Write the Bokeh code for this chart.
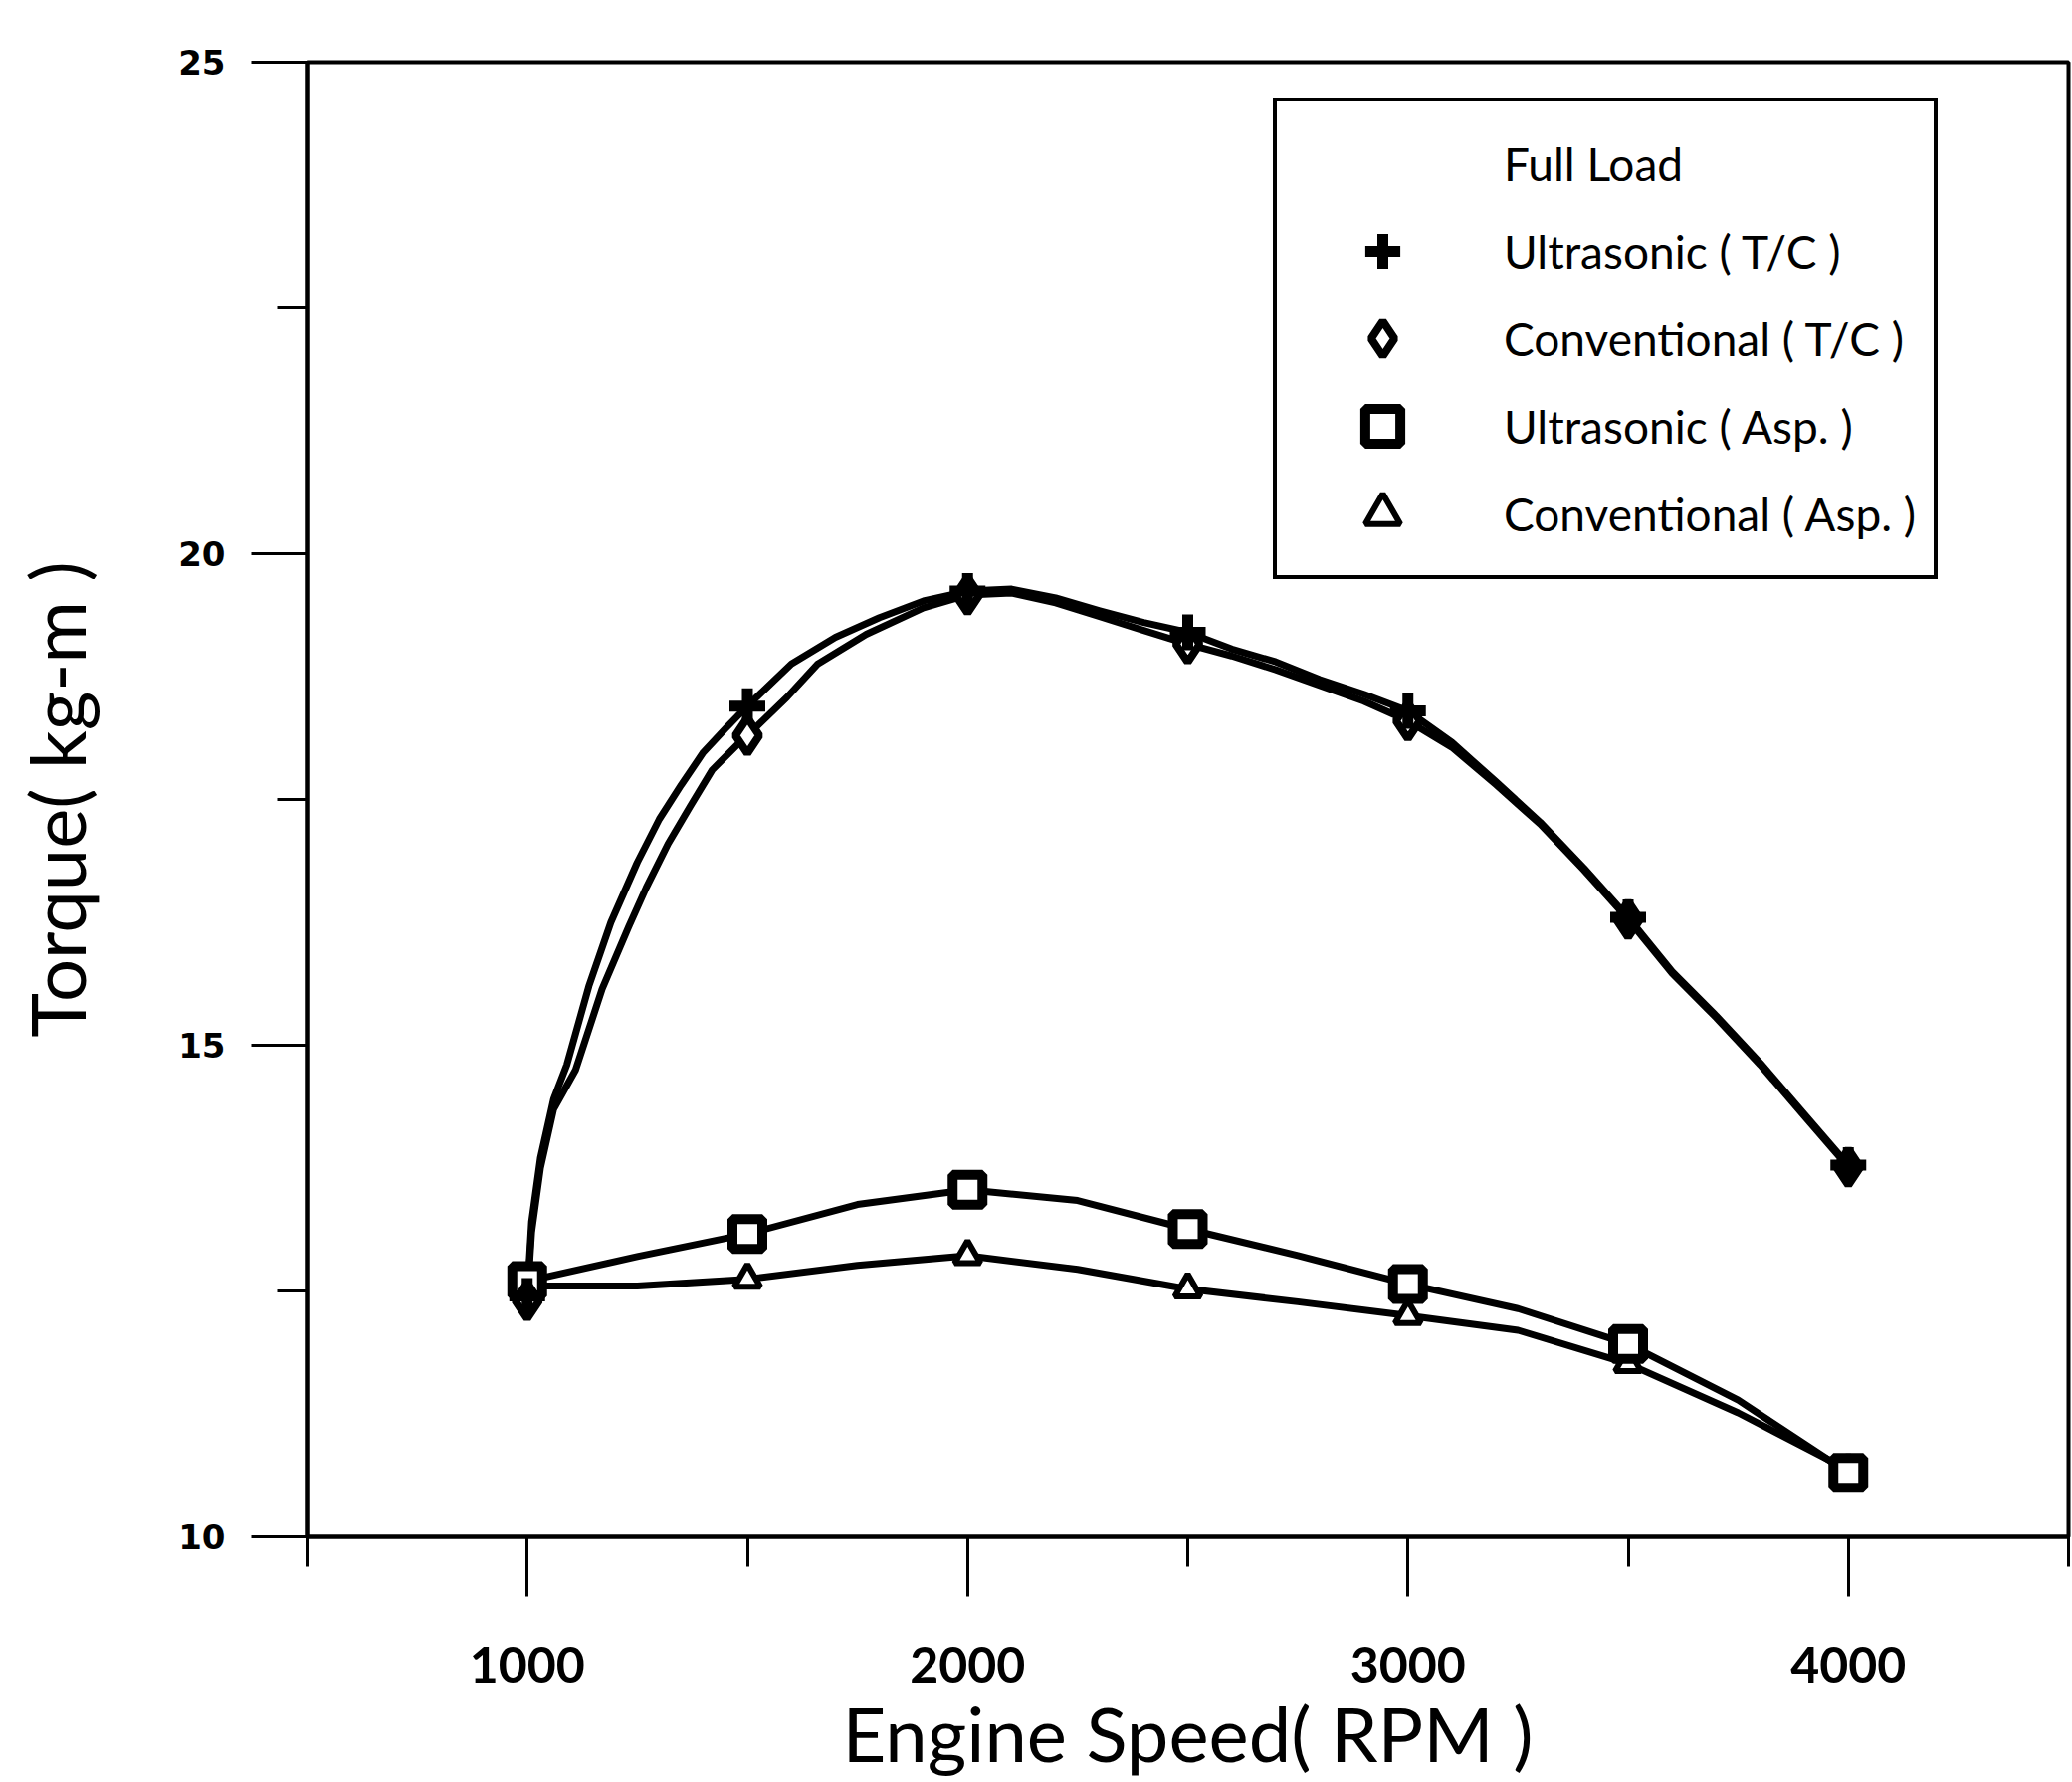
from bokeh.plotting import figure
from bokeh.models import Range1d, Legend, LegendItem, FixedTicker
from bokeh.embed import file_html
from bokeh.resources import INLINE

# ---- data ----
rpm = [1000, 1500, 2000, 2500, 3000, 3500, 4000]
ultra_tc = [12.45, 18.45, 19.62, 19.20, 18.40, 16.30, 13.78]
conv_tc = [12.40, 18.15, 19.58, 19.08, 18.30, 16.28, 13.76]
ultra_asp = [12.60, 13.08, 13.53, 13.13, 12.57, 11.96, 10.65]
conv_asp = [12.55, 12.62, 12.86, 12.52, 12.25, 11.76, 10.68]

# traced paths of the drawn (smoothed) curves
ultra_tc_path_rpm = [1000, 1010, 1030, 1060, 1090, 1140, 1190, 1250, 1300, 1350, 1400, 1450,
                     1500, 1600, 1700, 1800, 1900, 2000, 2100, 2200, 2300, 2400, 2500, 2600,
                     2700, 2800, 2900, 3000, 3100, 3200, 3300, 3400, 3500, 3600, 3700, 3800,
                     3900, 4000]
ultra_tc_path_tq = [12.45, 13.2, 13.85, 14.45, 14.8, 15.6, 16.25, 16.86, 17.3, 17.65, 17.98, 18.22,
                    18.45, 18.88, 19.15, 19.35, 19.52, 19.62, 19.64, 19.55, 19.42, 19.30, 19.20, 19.03,
                    18.90, 18.72, 18.57, 18.40, 18.08, 17.68, 17.27, 16.80, 16.30, 15.75, 15.30, 14.82,
                    14.30, 13.78]
conv_tc_path_rpm = [1000, 1010, 1030, 1060, 1110, 1170, 1230, 1270, 1320, 1370, 1420, 1480,
                    1500, 1590, 1660, 1770, 1900, 2000, 2100, 2200, 2300, 2400, 2500, 2600,
                    2700, 2800, 2900, 3000, 3100, 3200, 3300, 3400, 3500, 3600, 3700, 3800,
                    3900, 4000]
conv_tc_path_tq = [12.40, 13.1, 13.75, 14.35, 14.75, 15.57, 16.2, 16.6, 17.05, 17.43, 17.8, 18.07,
                   18.15, 18.54, 18.88, 19.18, 19.45, 19.58, 19.60, 19.50, 19.36, 19.22, 19.08, 18.96,
                   18.82, 18.66, 18.50, 18.30, 18.03, 17.65, 17.25, 16.78, 16.28, 15.73, 15.28, 14.80,
                   14.28, 13.76]
asp_path_rpm = [1000, 1250, 1500, 1750, 2000, 2250, 2500, 2750, 3000, 3250, 3500, 3750, 4000]
ultra_asp_path_tq = [12.60, 12.85, 13.08, 13.38, 13.53, 13.42, 13.13, 12.86, 12.57, 12.32, 11.96, 11.39, 10.65]
conv_asp_path_tq = [12.55, 12.55, 12.62, 12.76, 12.86, 12.72, 12.52, 12.39, 12.25, 12.10, 11.76, 11.26, 10.68]

x_ticks = [1000, 2000, 3000, 4000]
x_minor = [500, 1500, 2500, 3500, 4500]
y_ticks = [10, 15, 20, 25]
y_minor = [12.5, 17.5, 22.5]

legend_title = "Full Load"
labels = ["Ultrasonic ( T/C )", "Conventional ( T/C )", "Ultrasonic ( Asp. )", "Conventional ( Asp. )"]

p = figure(width=2082, height=1791, output_backend="svg", toolbar_location=None,
           x_range=Range1d(500, 4500), y_range=Range1d(10, 25),
           min_border_left=308, min_border_right=4, min_border_top=62, min_border_bottom=247)
p.background_fill_color = "white"
p.border_fill_color = "white"
p.xgrid.visible = False
p.ygrid.visible = False
p.outline_line_color = "black"
p.outline_line_width = 4
p.outline_line_alpha = 1.0

p.xaxis.ticker = FixedTicker(ticks=x_ticks, minor_ticks=x_minor)
p.yaxis.ticker = FixedTicker(ticks=y_ticks, minor_ticks=y_minor)

for ax in (p.xaxis[0], p.yaxis[0]):
    ax.axis_line_color = "black"
    ax.axis_line_width = 4
    ax.major_tick_in = 0
    ax.minor_tick_in = 0
    ax.major_tick_line_color = "black"
    ax.minor_tick_line_color = "black"
    ax.major_tick_line_width = 3
    ax.minor_tick_line_width = 3
    ax.major_label_text_color = "black"
    ax.axis_label_text_color = "black"
    ax.axis_label_text_font_style = "normal"
    ax.axis_label_text_font = "Lato"
    ax.axis_label_text_font_size = "76px"

p.xaxis.major_tick_out = 60
p.xaxis.minor_tick_out = 30
p.xaxis.major_label_text_font = "Lato"
p.xaxis.major_label_text_font_style = "bold"
p.xaxis.major_label_text_font_size = "50px"
p.xaxis.major_label_standoff = 50
p.xaxis.axis_label = "Engine Speed( RPM )"
p.xaxis.axis_label_standoff = 2

p.yaxis.major_tick_out = 56
p.yaxis.minor_tick_out = 30
p.yaxis.major_label_text_font = "DejaVu Sans"
p.yaxis.major_label_text_font_style = "bold"
p.yaxis.major_label_text_font_size = "34px"
p.yaxis.major_label_standoff = 26
p.yaxis.major_label_orientation = "horizontal"
p.yaxis.axis_label = "Torque( kg-m )"
p.yaxis.axis_label_standoff = 74

# lines
for xs, ys in ((ultra_tc_path_rpm, ultra_tc_path_tq), (conv_tc_path_rpm, conv_tc_path_tq),
               (asp_path_rpm, ultra_asp_path_tq), (asp_path_rpm, conv_asp_path_tq)):
    p.line(xs, ys, line_color="black", line_width=7, line_join="round")

# markers
r0 = p.scatter(x=[], y=[], marker="circle", size=1, line_alpha=0, fill_alpha=0)
r4 = p.scatter(rpm, conv_asp, marker="triangle", size=26, line_width=6,
               line_color="black", fill_color="white")
r3 = p.scatter(rpm, ultra_asp, marker="square", size=30, line_width=10,
               line_color="black", fill_color="white")
r2 = p.scatter(rpm, conv_tc, marker="diamond", size=36, line_width=8,
               line_color="black", fill_color="white")
r1 = p.scatter(rpm, ultra_tc, marker="cross", size=36, line_width=11, line_color="black")

legend = Legend(items=[LegendItem(label=legend_title, renderers=[r0]),
                       LegendItem(label=labels[0], renderers=[r1]),
                       LegendItem(label=labels[1], renderers=[r2]),
                       LegendItem(label=labels[2], renderers=[r3]),
                       LegendItem(label=labels[3], renderers=[r4])],
                location=(971, 962))
legend.margin = 0
legend.padding = 18
legend.spacing = 0
legend.glyph_width = 176
legend.glyph_height = 88
legend.label_height = 88
legend.label_standoff = 34
legend.label_text_font = "Lato"
legend.label_text_font_size = "46px"
legend.label_text_color = "black"
legend.border_line_color = "black"
legend.border_line_width = 4
legend.border_line_alpha = 1.0
legend.background_fill_color = "white"
legend.background_fill_alpha = 1.0
p.add_layout(legend)

open("out.html", "w").write(file_html(p, INLINE))
